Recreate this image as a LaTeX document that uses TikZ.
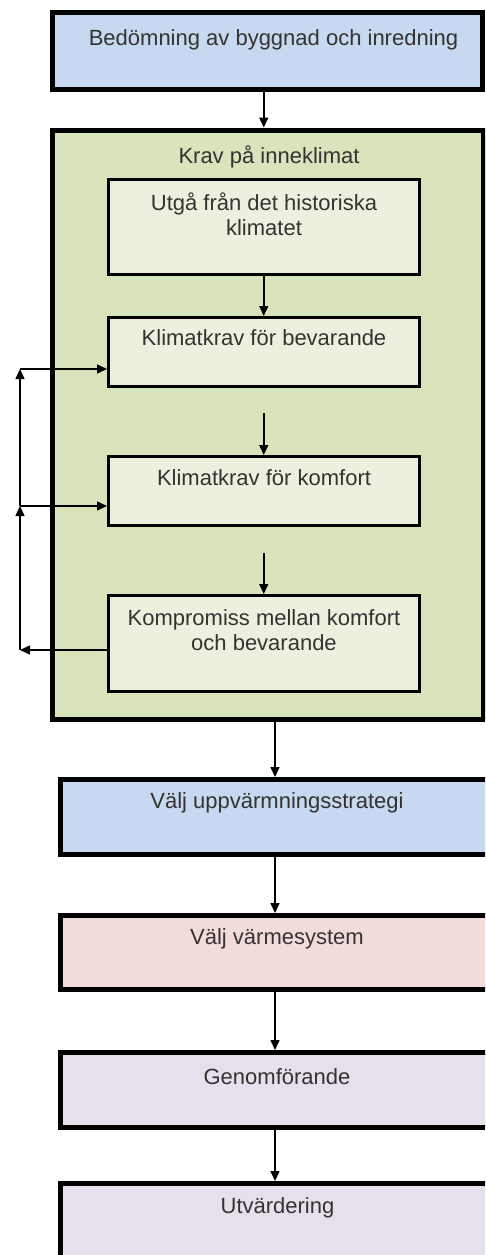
\documentclass[tikz,border=0pt]{standalone}
\usepackage{fontspec}
\setmainfont{Liberation Sans}
\usetikzlibrary{arrows.meta}
\definecolor{bluefill}{HTML}{C6D9F0}
\definecolor{greenfill}{HTML}{D7E4BC}
\definecolor{innerfill}{HTML}{EBF1DE}
\definecolor{pinkfill}{HTML}{F2DCDB}
\definecolor{lavfill}{HTML}{E5E0EC}
\definecolor{txtcol}{HTML}{353230}
\begin{document}
\begin{tikzpicture}[x=1pt,y=-1pt,
  outerbox/.style={draw=black, line width=5pt, rectangle, inner sep=0pt},
  innerbox/.style={draw=black, line width=3pt, rectangle, inner sep=0pt, fill=innerfill, minimum width=310.5pt},
  lowbox/.style={outerbox, minimum width=460pt},
  txt/.style={text=txtcol, font=\fontsize{22}{25}\selectfont, align=center, inner sep=0pt},
  arr/.style={draw=black, line width=1.5pt, -{Triangle[length=10pt,width=9pt]}}]
\useasboundingbox (0,0) rectangle (485,1255);
\clip (0,0) rectangle (485,1255);
\fill[white] (0,0) rectangle (485,1255);
% boxes
\node[outerbox, fill=bluefill, minimum width=430pt, minimum height=76.5pt] (top) at (267.5,50.75) {};
\node[outerbox, fill=greenfill, minimum width=430.5pt, minimum height=589pt] (green) at (267.75,424.5) {};
\node[innerbox, minimum height=95pt] (box1) at (263.75,227) {};
\node[innerbox, minimum height=69pt] (box2) at (263.75,352) {};
\node[innerbox, minimum height=69pt] (box3) at (263.75,491) {};
\node[innerbox, minimum height=95.5pt] (box4) at (263.75,643.25) {};
\node[lowbox, fill=bluefill, minimum height=75pt] (strat) at (290,817) {};
\node[lowbox, fill=pinkfill, minimum height=74pt] (sys) at (290,952.5) {};
\node[lowbox, fill=lavfill, minimum height=74.5pt] (gen) at (290,1089.75) {};
\node[lowbox, fill=lavfill, minimum height=76.5pt] (utv) at (290,1221.75) {};
% texts
\node[txt] (ttop) at (273.5,40) {Bedömning av byggnad och inredning};
\node[txt] (tgreen) at (269,157) {Krav på inneklimat};
\node[txt] (t1) at (264,214.5) {Utgå från det historiska\\klimatet};
\node[txt] (t2) at (264,338) {Klimatkrav för bevarande};
\node[txt] (t3) at (264,478) {Klimatkrav för komfort};
\node[txt] (t4) at (264,630) {Kompromiss mellan komfort\\och bevarande};
\node[txt] (tstrat) at (277,803) {Välj uppvärmningsstrategi};
\node[txt] (tsys) at (277,939) {Välj värmesystem};
\node[txt] (tgen) at (277,1077) {Genomförande};
\node[txt] (tutv) at (277.5,1208) {Utvärdering};
% coordinates
\coordinate (mx) at (275,0);
\coordinate (c23) at (263.75,413);
\coordinate (c34) at (263.75,553);
\coordinate (L1) at (20,650);
\coordinate (L2) at (20,506);
\coordinate (L3) at (20,369);
% connectors
\draw[arr] (box1.north |- top.south) -- (box1.north |- green.north);
\draw[arr] (box1) -- (box2);
\draw[arr] (c23) -- (box3);
\draw[arr] (c34) -- (box4);
\draw[arr] (green.south -| mx) -- (strat.north -| mx);
\draw[arr] (strat.south -| mx) -- (sys.north -| mx);
\draw[arr] (sys.south -| mx) -- (gen.north -| mx);
\draw[arr] (gen.south -| mx) -- (utv.north -| mx);
\draw[arr] (box4.west |- L1) -- (L1);
\draw[arr] (L1) -- (L2);
\draw[arr] (L2) -- (box3.west |- L2);
\draw[arr] (L2) -- (L3);
\draw[arr] (L3) -- (box2.west |- L3);
\end{tikzpicture}
\end{document}
